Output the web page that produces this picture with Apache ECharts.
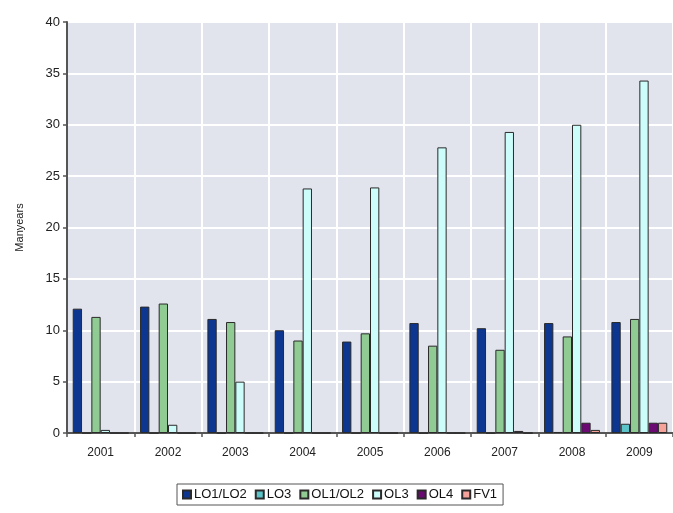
<!DOCTYPE html>
<html>
<head>
<meta charset="utf-8">
<script src="https://cdn.jsdelivr.net/npm/echarts@6/dist/echarts.min.js"></script>
<style>
  html, body { margin: 0; padding: 0; background: #ffffff; }
  #chart { width: 673px; height: 513px; }
</style>
</head>
<body>
<div id="chart"></div>
<script>
// Years on the category axis
const years = ['2001', '2002', '2003', '2004', '2005', '2006', '2007', '2008', '2009'];

// Manyears per group and year
const lo1lo2 = [12.1, 12.3, 11.1, 10.0, 8.9, 10.7, 10.2, 10.7, 10.8];
const lo3    = [0, 0, 0, 0, 0, 0, 0, 0.1, 0.9];
const ol1ol2 = [11.3, 12.6, 10.8, 9.0, 9.7, 8.5, 8.1, 9.4, 11.1];
const ol3    = [0.3, 0.8, 5.0, 23.8, 23.9, 27.8, 29.3, 30.0, 34.3];
const ol4    = [0, 0, 0, 0, 0, 0, 0.2, 1.0, 1.0];
const fv1    = [0, 0, 0, 0, 0, 0, 0, 0.3, 1.0];

const yTicks = { min: 0, max: 40, step: 5 };

const groups = [
  { name: 'LO1/LO2', data: lo1lo2, color: '#0c3690' },
  { name: 'LO3',     data: lo3,    color: '#5cc4c8' },
  { name: 'OL1/OL2', data: ol1ol2, color: '#8fcb92' },
  { name: 'OL3',     data: ol3,    color: '#ccfdfb' },
  { name: 'OL4',     data: ol4,    color: '#6b0a72' },
  { name: 'FV1',     data: fv1,    color: '#f5a39a' }
];

const font = '"Liberation Sans", Arial, sans-serif';

const chart = echarts.init(document.getElementById('chart'), null, { renderer: 'canvas' });

chart.setOption({
  animation: false,
  textStyle: { fontFamily: font },
  grid: {
    left: 67, right: 0, top: 22, bottom: 80,
    show: true, backgroundColor: '#e1e3ed', borderWidth: 0
  },
  legend: {
    left: 177, top: 484,
    itemWidth: 8, itemHeight: 8, itemGap: 8,
    padding: [4, 6, 4, 5],
    borderColor: '#555', borderWidth: 1,
    icon: 'rect',
    textStyle: { fontFamily: font, fontSize: 13, color: '#111', padding: [0, 0, 0, -2] },
    data: groups.map(g => g.name)
  },
  xAxis: {
    type: 'category',
    data: years,
    axisLine: { lineStyle: { color: '#555', width: 2 } },
    axisTick: { show: true, alignWithLabel: false, length: 4, lineStyle: { color: '#555', width: 1.5 } },
    axisLabel: { fontFamily: font, fontSize: 12, color: '#222', margin: 14 },
    splitLine: { show: true, lineStyle: { color: '#ffffff', width: 2 } }
  },
  yAxis: {
    type: 'value',
    min: yTicks.min, max: yTicks.max, interval: yTicks.step,
    name: 'Manyears',
    nameLocation: 'middle',
    nameRotate: 90,
    nameGap: 42,
    nameTextStyle: { fontFamily: font, fontSize: 11, color: '#222' },
    axisLine: { show: true, lineStyle: { color: '#555', width: 2 } },
    axisTick: { show: true, length: 4, lineStyle: { color: '#555', width: 1.5 } },
    axisLabel: { fontFamily: font, fontSize: 13, color: '#222', margin: 7 },
    splitLine: { show: true, lineStyle: { color: '#ffffff', width: 2 } }
  },
  series: groups.map(g => ({
    name: g.name,
    type: 'bar',
    data: g.data,
    barGap: '0%',
    barCategoryGap: '17%',
    itemStyle: { color: g.color, borderColor: '#2a2a2a', borderWidth: 1 }
  }))
});
</script>
</body>
</html>
